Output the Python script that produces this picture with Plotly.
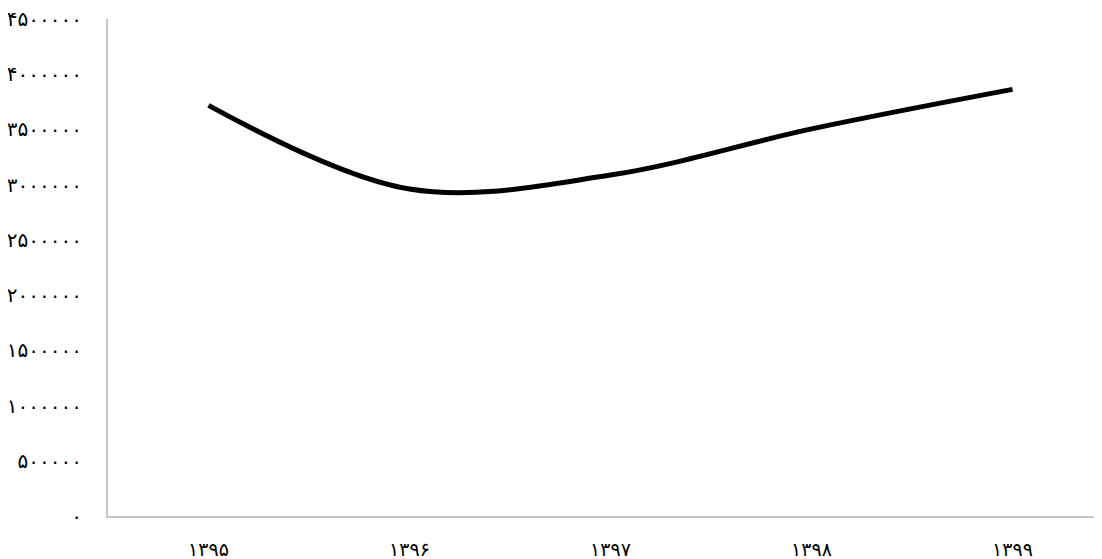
import plotly.graph_objects as go

years = ["۱۳۹۵", "۱۳۹۶", "۱۳۹۷", "۱۳۹۸", "۱۳۹۹"]
values = [3718000, 2960000, 3087000, 3505000, 3863000]

y_tickvals = [0, 500000, 1000000, 1500000, 2000000, 2500000, 3000000, 3500000, 4000000, 4500000]
y_ticktext = ["۰", "۵۰۰۰۰۰", "۱۰۰۰۰۰۰", "۱۵۰۰۰۰۰", "۲۰۰۰۰۰۰", "۲۵۰۰۰۰۰",
              "۳۰۰۰۰۰۰", "۳۵۰۰۰۰۰", "۴۰۰۰۰۰۰", "۴۵۰۰۰۰۰"]

fig = go.Figure()
fig.add_trace(go.Scatter(
    x=list(range(len(years))), y=values, mode="lines",
    line=dict(color="#000000", width=5, shape="spline", smoothing=1.0),
    showlegend=False, hoverinfo="skip",
))

font_family = "DejaVu Sans, Noto Sans, sans-serif"
fig.update_layout(
    width=1102, height=559,
    margin=dict(l=100, r=0, t=11, b=51),
    paper_bgcolor="white", plot_bgcolor="white",
    font=dict(family=font_family, size=20, color="#000000"),
)
fig.update_xaxes(
    range=[-0.5, 4.485], tickvals=list(range(len(years))), ticktext=years,
    showgrid=False, zeroline=False, showline=True, linecolor="#c8c8c8", linewidth=2,
    ticks="", ticklabelstandoff=15, tickfont=dict(size=19), automargin=False,
    ticklabeloverflow="allow",
)
fig.update_yaxes(
    range=[0, 4500000], tickvals=y_tickvals, ticktext=y_ticktext,
    showgrid=False, zeroline=False, showline=True, linecolor="#c8c8c8", linewidth=2,
    ticks="", ticklabelstandoff=20, tickfont=dict(size=20), automargin=False,
    ticklabeloverflow="allow",
)
fig.write_html("out.html")
